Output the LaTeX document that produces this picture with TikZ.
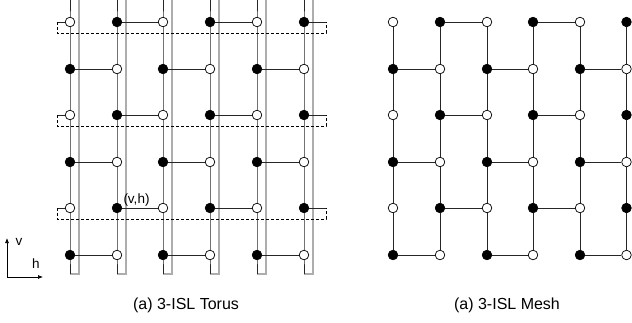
\documentclass[tikz,border=0pt]{standalone}
\usepackage{fontspec}
\setmainfont{Liberation Sans}
\usetikzlibrary{backgrounds,arrows.meta}
\begin{document}
\begin{tikzpicture}[x=1pt,y=-1pt,
  vtx/.style={circle,draw=black,line width=0.7pt,minimum size=9.6pt,inner sep=0pt},
  wvtx/.style={vtx,fill=white},
  bvtx/.style={vtx,fill=black},
  link/.style={draw=black!85,line width=0.8pt},
  wrapv/.style={draw=black!32,line width=1.1pt},
  wraph/.style={draw=black,line width=0.7pt,dash pattern=on 3pt off 2pt},
  axisarrow/.style={draw=black,line width=0.7pt,-{Latex[length=5pt,width=4pt]}},
  lbl/.style={font=\fontsize{13.5}{15}\selectfont,inner sep=0pt},
  caption/.style={font=\fontsize{16}{18}\selectfont,inner sep=0pt}]
\useasboundingbox (0,0) rectangle (632,322);

% ---- vertices of both grids (checkerboard colouring) ----
\foreach \r/\y in {0/22,1/69,2/115,3/162,4/208,5/255} {
  \foreach \c/\x/\mx in {0/70/393,1/117/440,2/163/487,3/210/533,4/257/580,5/304/626.5} {
    \pgfmathtruncatemacro\oddsum{mod(\r+\c,2)}
    \ifnum\oddsum=1
      \node[bvtx] (t-\r-\c) at (\x,\y) {};
      \node[bvtx] (m-\r-\c) at (\mx,\y) {};
    \else
      \node[wvtx] (t-\r-\c) at (\x,\y) {};
      \node[wvtx] (m-\r-\c) at (\mx,\y) {};
    \fi
  }
}

% ---- torus: column links with their wrap-around loops ----
\foreach \c/\x in {0/70,1/117,2/163,3/210,4/257,5/304} {
  \coordinate (t-top-\c) at (\x,0);
  \coordinate (t-bot-\c) at (\x,274);
}
% ---- torus: row wrap-around end points ----
\foreach \r/\y in {0/22,2/115,4/208} {
  \coordinate (t-wl-\r) at (57,\y);
  \coordinate (t-wr-\r) at (326,\y);
}

\begin{scope}[on background layer]
  \foreach \c in {0,...,5} {
    \draw[wrapv] (t-bot-\c) -- ([xshift=9pt]t-bot-\c) -- ([xshift=9pt]t-top-\c);
    \draw[link] (t-top-\c) -- (t-0-\c.center) -- (t-1-\c.center) -- (t-2-\c.center)
      -- (t-3-\c.center) -- (t-4-\c.center) -- (t-5-\c.center) -- (t-bot-\c);
    \draw[link] (m-0-\c) -- (m-1-\c) -- (m-2-\c) -- (m-3-\c) -- (m-4-\c) -- (m-5-\c);
  }
  % horizontal links, odd rows
  \foreach \r in {1,3,5} {
    \foreach \a/\b in {0/1,2/3,4/5} {
      \draw[link] (t-\r-\a) -- (t-\r-\b);
      \draw[link] (m-\r-\a) -- (m-\r-\b);
    }
  }
  % horizontal links, even rows
  \foreach \r in {0,2,4} {
    \foreach \a/\b in {1/2,3/4} {
      \draw[link] (t-\r-\a) -- (t-\r-\b);
      \draw[link] (m-\r-\a) -- (m-\r-\b);
    }
    \draw[link] (t-\r-0) -- (t-wl-\r);
    \draw[link] (t-\r-5) -- (t-wr-\r);
    \draw[wraph] (t-wl-\r) -- ++(0,11) -| (t-wr-\r);
  }
\end{scope}

\node[lbl,anchor=base] (vh) at (136.5,203) {(v,h)};

% ---- axis indicator ----
\coordinate (ax-o) at (7,277);
\coordinate (ax-v) at (7,238);
\coordinate (ax-h) at (43,277);
\draw[axisarrow] (ax-o) -- (ax-v);
\draw[axisarrow] (ax-o) -- (ax-h);
\node[lbl] (lab-v) at (19,242) {v};
\node[lbl] (lab-h) at (36,264) {h};

% ---- captions ----
\node[caption] (cap-t) at (186,305) {(a) 3-ISL Torus};
\node[caption] (cap-m) at (507,305) {(a) 3-ISL Mesh};
\end{tikzpicture}
\end{document}
